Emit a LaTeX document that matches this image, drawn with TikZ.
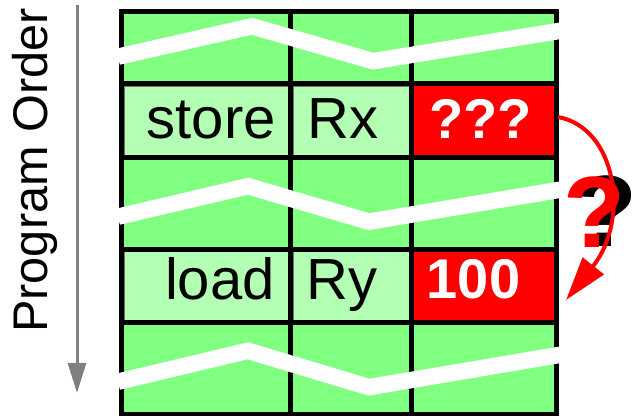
\documentclass[tikz,border=0pt]{standalone}
\usepackage{fontspec}
\setmainfont{Liberation Sans}
\usetikzlibrary{arrows.meta}
\definecolor{gapgreen}{HTML}{80FF80}
\definecolor{rowgreen}{HTML}{B3FFB3}
\definecolor{valred}{HTML}{FF0000}
\begin{document}
\begin{tikzpicture}[x=0.75pt,y=-0.75pt,
  gridline/.style={line width=3.75pt, line cap=rect},
  breakline/.style={white, line width=12.4pt},
  lightcell/.style={fill=rowgreen, draw=black!55, line width=0.6pt},
  celltext/.style={inner sep=0pt, font=\fontsize{43.5}{43.5}\selectfont},
  valtext/.style={inner sep=0pt, anchor=base, text=white, font=\fontsize{42}{42}\selectfont\bfseries},
  bigq/.style={inner sep=0pt, anchor=base, font=\fontsize{76}{76}\selectfont\bfseries},
  orderarrow/.style={draw=gray, line width=2.25pt, -{Triangle[length=22.5pt,width=13.5pt]}},
  fwdarrow/.style={draw=valred, line width=3pt, -{Triangle[length=32.8pt,width=19.8pt]}}
]
\useasboundingbox (0,0) rectangle (639,416);

% cell backgrounds
\fill[gapgreen] (121.2,11.5) rectangle (556.5,83.5);
\fill[gapgreen] (121.2,157.5) rectangle (556.5,249.2);
\fill[gapgreen] (121.2,322.5) rectangle (556.5,414.5);
\draw[lightcell] (124,86) rectangle (288,155.3);
\draw[lightcell] (293,86) rectangle (409.3,155.3);
\fill[valred] (411.8,83.5) rectangle (556.5,157.5);
\draw[lightcell] (124,251.7) rectangle (288,320.2);
\draw[lightcell] (293,251.7) rectangle (409.3,320.2);
\fill[valred] (411.8,249.2) rectangle (556.5,322.5);

% grid
\foreach \gx in {121.2,290.5,411.8,556.5}
  \draw[gridline] (\gx,11.5) -- (\gx,414.5);
\foreach \gy in {11.5,83.5,157.5,249.2,322.5,414.5}
  \draw[gridline] (121.2,\gy) -- (556.5,\gy);

% breaks in the instruction stream
\draw[breakline] (118,56.7) -- (252,26.3) -- (373,61.2) -- (560,30.8);
\draw[breakline] (118,216.7) -- (248,186.2) -- (369,221.7) -- (560,189.7);
\draw[breakline] (118,381.7) -- (248,350.8) -- (369,387.2) -- (560,354.8);

% instructions
\node[celltext, anchor=base east] (st) at (276,138.3) {store};
\node[celltext, anchor=base west] (rx) at (307,138.3) {Rx};
\node[valtext] (qq) at (480.5,138.3) {???};
\node[celltext, anchor=base east] (ld) at (275,300) {load};
\node[celltext, anchor=base west] (ry) at (306,300) {Ry};
\node[valtext] (hv) at (473.5,299) {100};

% program order axis
\node[rotate=90, anchor=base, inner sep=0pt, font=\fontsize{36.5}{36.5}\selectfont] (po) at (47.5,170.5) {Program Order};
\coordinate (poTop) at (77,5);
\coordinate (poEnd) at (77,393);
\draw[orderarrow] (poTop) -- (poEnd);

% forwarding question, red over a black drop shadow
\node[bigq] (qmark) at (594,248)
  {\rlap{\kern 9.5pt\raisebox{0.75pt}{\textcolor{black}{?}}}\textcolor{valred}{?}};
\coordinate (arrS) at (558,117);
\coordinate (arrE) at (566,300);
\draw[fwdarrow] (arrS) .. controls (617,128) and (630,220) .. (arrE);
\end{tikzpicture}
\end{document}
